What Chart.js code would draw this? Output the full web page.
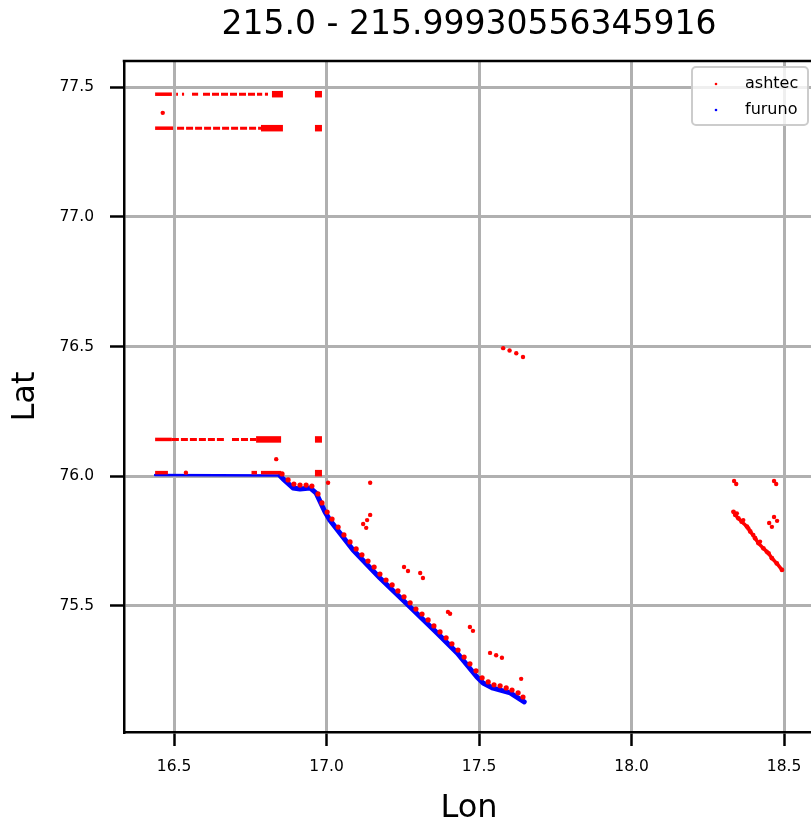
<!DOCTYPE html>
<html>
<head>
<meta charset="utf-8">
<script src="https://cdn.jsdelivr.net/npm/chart.js@4.4.1/dist/chart.umd.min.js"></script>
<style>
  html, body { margin: 0; padding: 0; background: #fff; overflow: hidden; }
  #wrap { width: 811px; height: 825px; overflow: hidden; }
</style>
</head>
<body>
<div id="wrap"><canvas id="myChart" width="938" height="825"></canvas></div>
<script>
var chartTitle = "215.0 - 215.99930556345916";
var xTicks = [16.5, 17.0, 17.5, 18.0, 18.5];
var yTicks = [75.5, 76.0, 76.5, 77.0, 77.5];

// ashtec: sparse dotted runs along constant lat [lonStart, lonEnd, lat]
var ashtecSparseRuns = [
  [16.507, 16.513, 77.473], [16.526, 16.533, 77.473],
  [16.559, 16.579, 77.473], [16.595, 16.789, 77.473], [16.798, 16.808, 77.473],
  [16.510, 16.787, 77.342],
  [16.493, 16.664, 76.142], [16.690, 16.769, 76.142]
];
// ashtec: solid runs
var ashtecRuns = [
  [16.438, 16.493, 77.473], [16.438, 16.497, 77.342], [16.438, 16.493, 76.142],
  [16.438, 16.480, 76.014], [16.754, 16.772, 76.014], [16.785, 16.851, 76.014]
];
// ashtec: dense blocks at the end of runs
var ashtecBlocks = [
  [16.821, 16.857, 77.473], [16.962, 16.985, 77.473],
  [16.785, 16.857, 77.342], [16.962, 16.985, 77.342],
  [16.769, 16.851, 76.142], [16.962, 16.985, 76.142],
  [16.962, 16.985, 76.012]
];
// ashtec: points along the furuno track
var ashtecTrack = [
  [16.854, 76.009], [16.874, 75.986], [16.893, 75.970], [16.913, 75.966], [16.933, 75.966],
  [16.952, 75.962], [16.972, 75.932], [16.985, 75.897], [17.002, 75.862], [17.018, 75.835],
  [17.038, 75.804], [17.057, 75.774], [17.077, 75.747], [17.097, 75.720], [17.116, 75.697],
  [17.136, 75.673], [17.156, 75.650], [17.175, 75.623], [17.195, 75.600], [17.215, 75.581],
  [17.234, 75.558], [17.254, 75.535], [17.274, 75.512], [17.293, 75.488], [17.313, 75.469],
  [17.333, 75.446], [17.352, 75.423], [17.372, 75.400], [17.392, 75.377], [17.411, 75.354],
  [17.431, 75.330], [17.451, 75.303], [17.470, 75.277], [17.490, 75.250], [17.510, 75.223],
  [17.530, 75.207], [17.549, 75.196], [17.569, 75.192], [17.589, 75.184], [17.608, 75.176],
  [17.628, 75.165], [17.644, 75.149]
];
// ashtec: scattered outliers
var ashtecOther = [
  [16.463, 77.401], [16.539, 76.014], [16.835, 76.066],
  [17.005, 75.975], [17.143, 75.975],
  [17.143, 75.851], [17.133, 75.831], [17.120, 75.816], [17.130, 75.801],
  [17.254, 75.650], [17.267, 75.635], [17.307, 75.627], [17.316, 75.608],
  [17.398, 75.477], [17.405, 75.470], [17.470, 75.419], [17.480, 75.404],
  [17.536, 75.319], [17.556, 75.310], [17.575, 75.300], [17.638, 75.219],
  [17.579, 76.494], [17.600, 76.485], [17.622, 76.474], [17.644, 76.460],
  [18.336, 75.982], [18.343, 75.970], [18.467, 75.982], [18.474, 75.970],
  [18.467, 75.843], [18.477, 75.828], [18.451, 75.820], [18.460, 75.805],
  [18.345, 75.857], [18.366, 75.831], [18.383, 75.799], [18.399, 75.774],
  [18.421, 75.748], [18.443, 75.709]
];
// ashtec: second track on the right
var ashtecEast = [
  [18.334, 75.863], [18.340, 75.851], [18.350, 75.838], [18.361, 75.825], [18.378, 75.806],
  [18.389, 75.787], [18.405, 75.761], [18.416, 75.742], [18.432, 75.722], [18.449, 75.703],
  [18.460, 75.684], [18.476, 75.664], [18.493, 75.639]
];
// furuno track
var furunoFlat = [[16.438, 76.005], [16.848, 76.003]];
var furunoTrack = [
  [16.848, 76.001], [16.861, 75.986], [16.890, 75.955], [16.913, 75.951], [16.946, 75.955],
  [16.966, 75.935], [16.995, 75.862], [17.011, 75.831], [17.087, 75.716], [17.175, 75.608],
  [17.274, 75.496], [17.362, 75.396], [17.428, 75.319], [17.493, 75.226], [17.513, 75.203],
  [17.546, 75.183], [17.602, 75.165], [17.648, 75.130]
];

var RED = "#ff0000";
var BLUE = "#0000ff";
var FONT = "'DejaVu Sans', sans-serif";

function pts(arr) {
  return arr.map(function (p) { return { x: p[0], y: p[1] }; });
}
function runSet(r, color, width, dash) {
  return {
    data: [{ x: r[0], y: r[2] }, { x: r[1], y: r[2] }],
    showLine: true, borderColor: color, borderWidth: width,
    borderDash: dash || [], borderCapStyle: "butt", pointRadius: 0
  };
}
function lineSet(arr, color, width) {
  return {
    data: pts(arr), showLine: true, borderColor: color, borderWidth: width,
    borderCapStyle: "round", borderJoinStyle: "round", pointRadius: 0
  };
}
function dotSet(arr, color, r) {
  return {
    data: pts(arr), showLine: false, backgroundColor: color,
    borderWidth: 0, pointRadius: r, pointStyle: "circle"
  };
}

var datasets = [];
ashtecSparseRuns.forEach(function (r) { datasets.push(runSet(r, RED, 3, [7, 2])); });
ashtecRuns.forEach(function (r) { datasets.push(runSet(r, RED, 3.5)); });
ashtecBlocks.forEach(function (r) { datasets.push(runSet(r, RED, 6.5)); });
datasets.push(dotSet(ashtecTrack, RED, 2.6));
datasets.push(dotSet(ashtecOther, RED, 2.2));
datasets.push(lineSet(ashtecEast, RED, 3.5));
datasets.push(dotSet(ashtecEast, RED, 2.4));
datasets.push(lineSet(furunoFlat, BLUE, 2.5));
datasets.push(lineSet(furunoTrack, BLUE, 5));

var frameAndLegend = {
  id: "frameAndLegend",
  afterDatasetsDraw: function (chart) {
    var ctx = chart.ctx, a = chart.chartArea;
    ctx.save();
    ctx.strokeStyle = "#000";
    ctx.lineWidth = 2.5;
    ctx.beginPath();
    ctx.moveTo(a.left - 1.25, a.top);
    ctx.lineTo(a.right + 1.25, a.top);
    ctx.stroke();

    // legend box, upper right inside the axes
    var bx = a.right - 122, by = a.top + 6, bw = 116, bh = 58;
    ctx.beginPath();
    ctx.roundRect(bx, by, bw, bh, 4);
    ctx.fillStyle = "rgba(255,255,255,0.8)";
    ctx.fill();
    ctx.strokeStyle = "#cccccc";
    ctx.lineWidth = 2;
    ctx.stroke();

    var items = [["ashtec", RED], ["furuno", BLUE]];
    ctx.font = "16px " + FONT;
    ctx.textBaseline = "middle";
    ctx.textAlign = "left";
    items.forEach(function (it, i) {
      var cy = by + 17 + i * 26;
      ctx.fillStyle = it[1];
      ctx.beginPath();
      ctx.arc(bx + 24, cy, 1.3, 0, Math.PI * 2);
      ctx.fill();
      ctx.fillStyle = "#000";
      ctx.fillText(it[0], bx + 53, cy);
    });
    ctx.restore();
  }
};

var axisCommon = {
  type: "linear",
  ticks: {
    color: "#000",
    font: { family: FONT, size: 15.5 },
    autoSkip: false,
    maxRotation: 0,
    callback: function (v) { return Number(v).toFixed(1); }
  },
  grid: {
    color: "#b0b0b0", lineWidth: 3,
    tickColor: "#000", tickLength: 14, tickWidth: 2.5
  },
  border: { color: "#000", width: 2.5 }
};

new Chart("myChart", {
  type: "scatter",
  data: { datasets: datasets },
  plugins: [frameAndLegend],
  options: {
    responsive: false,
    animation: false,
    events: [],
    layout: { padding: 0 },
    plugins: {
      legend: { display: false },
      tooltip: { enabled: false },
      title: {
        display: true,
        text: chartTitle,
        color: "#000",
        font: { family: FONT, size: 33, weight: "normal", lineHeight: 1.2 },
        padding: { top: 6, bottom: 15.4 }
      }
    },
    scales: {
      x: Object.assign({}, axisCommon, {
        position: "bottom",
        min: 16.336,
        max: 18.598,
        ticks: Object.assign({}, axisCommon.ticks, { padding: 12 }),
        afterBuildTicks: function (s) { s.ticks = xTicks.map(function (v) { return { value: v }; }); },
        afterFit: function (s) { s.height = 93; },
        title: {
          display: true, text: "Lon", color: "#000",
          font: { family: FONT, size: 32, lineHeight: 1 },
          padding: { top: 0, bottom: 0 }
        }
      }),
      y: Object.assign({}, axisCommon, {
        position: "left",
        min: 75.014,
        max: 77.601,
        ticks: Object.assign({}, axisCommon.ticks, { padding: 16 }),
        afterBuildTicks: function (s) { s.ticks = yTicks.map(function (v) { return { value: v }; }); },
        afterFit: function (s) { s.width = 124; },
        title: {
          display: true, text: "Lat", color: "#000",
          font: { family: FONT, size: 32, lineHeight: 1.2 },
          padding: { top: 6, bottom: 0 }
        }
      }),
      yRight: {
        type: "linear",
        position: "right",
        display: true,
        grid: { display: false, drawTicks: false },
        border: { display: false },
        ticks: { display: false },
        afterFit: function (s) { s.width = 124; }
      }
    }
  }
});
</script>
</body>
</html>
